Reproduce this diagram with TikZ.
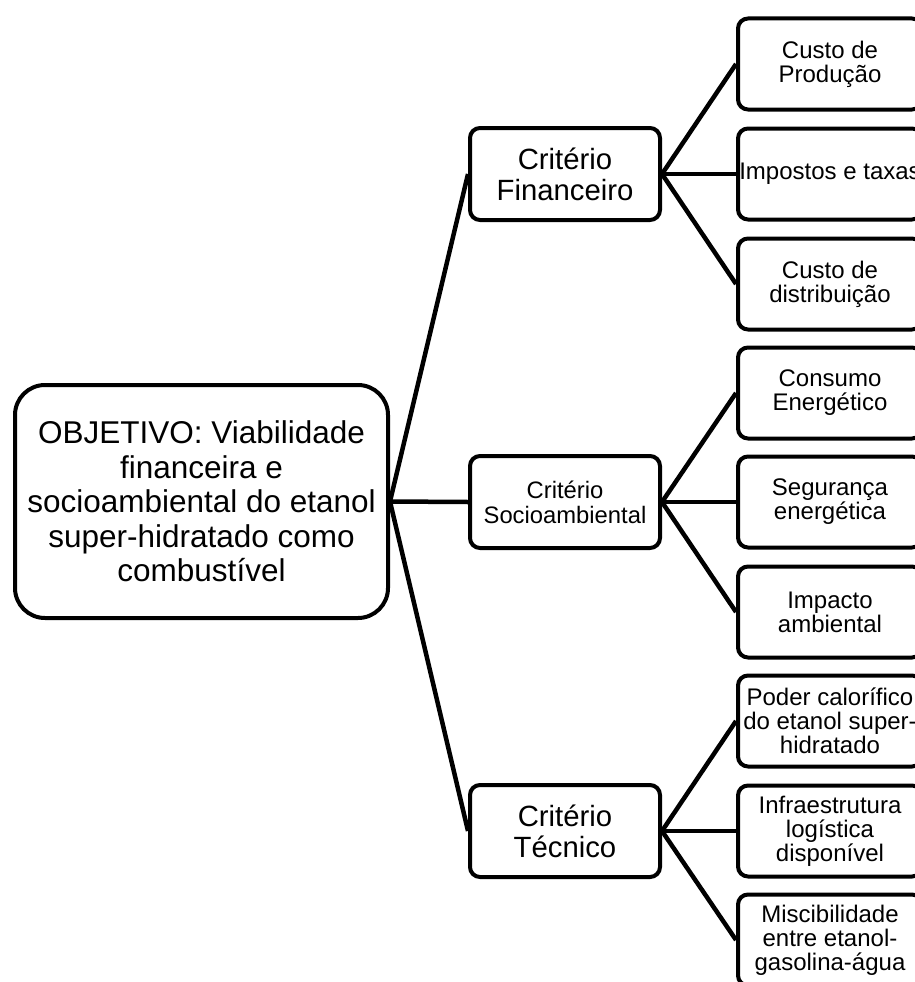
\documentclass[tikz,border=0pt]{standalone}
\usepackage{fontspec}
\setmainfont{Liberation Sans}
\usepackage{tikz}
\usetikzlibrary{positioning}

\begin{document}
\begin{tikzpicture}[
  x=1pt, y=-1pt,
  goal/.style={draw=black, fill=white, line width=4pt, rounded corners=30pt, minimum width=373pt, minimum height=233pt, align=center, inner sep=1pt, font=\fontsize{31.5}{34.5}\selectfont},
  crit/.style={draw=black, fill=white, line width=4pt, rounded corners=10pt, minimum width=190pt, minimum height=92pt, align=center, inner sep=1pt, font=\fontsize{29.3}{31}\selectfont},
  leaf/.style={draw=black, fill=white, line width=4pt, rounded corners=10pt, minimum width=184pt, minimum height=91pt, align=center, inner sep=0pt, font=\fontsize{24}{24}\selectfont},
  link/.style={draw=black, line width=4.5pt},
]
\useasboundingbox (0,0) rectangle (915,982);
\clip (0,0) rectangle (915,982);
\node[goal] (obj) at (201.5,501.5) {OBJETIVO: Viabilidade\\financeira e\\socioambiental do etanol\\super-hidratado como\\combustível};
\node[crit] (fin) at (565,174) {Critério\\Financeiro};
\node[crit, font=\fontsize{23.8}{25}\selectfont] (soc) at (565,502) {Critério\\Socioambiental};
\node[crit] (tec) at (565,831) {Critério\\Técnico};
\node[leaf] (prod) at (830,64) {Custo de\\Produção};
\node[leaf] (imp) at (830,174) {Impostos e taxas};
\node[leaf] (dist) at (830,284) {Custo de\\distribuição};
\node[leaf] (cons) at (830,393) {Consumo\\Energético};
\node[leaf] (seg) at (830,502) {Segurança\\energética};
\node[leaf] (amb) at (830,612) {Impacto\\ambiental};
\node[leaf] (pod) at (830,721) {Poder calorífico\\do etanol super-\\hidratado};
\node[leaf] (infra) at (830,831) {Infraestrutura\\logística\\disponível};
\node[leaf] (misc) at (830,940) {Miscibilidade\\entre etanol-\\gasolina-água};
\foreach \b in {fin, soc, tec} \draw[link] (obj.east) -- (\b.west);
\foreach \a/\b in {fin/prod, fin/imp, fin/dist, soc/cons, soc/seg, soc/amb, tec/pod, tec/infra, tec/misc} \draw[link] (\a.east) -- (\b.west);
\end{tikzpicture}
\end{document}
